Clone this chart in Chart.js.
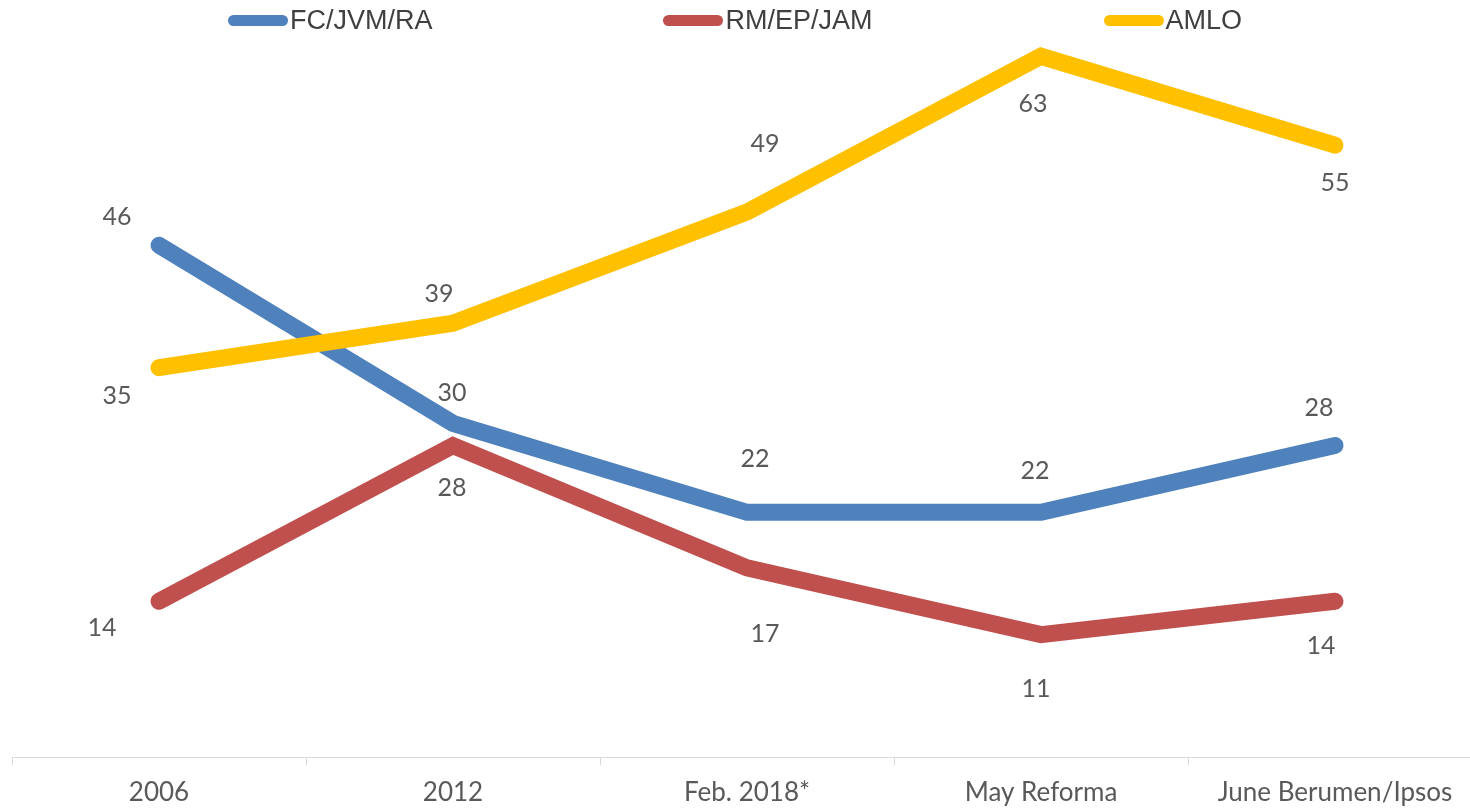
<!DOCTYPE html>
<html>
<head>
<meta charset="utf-8">
<script src="https://cdn.jsdelivr.net/npm/chart.js@4"></script>
<style>
    body { margin: 0; overflow: hidden; background: #fff; }
    #wrap { position: relative; width: 1482px; height: 809px; }
    #legend {
        position: absolute; top: 0; left: 0; width: 1470px; height: 40px;
        display: flex; justify-content: center; align-items: center; gap: 231px;
        font-family: "Liberation Sans", Arial, sans-serif; font-size: 27px; color: #404040;
        z-index: 2;
    }
    .item { display: flex; align-items: center; white-space: nowrap; }
    .mark { width: 60px; height: 11px; border-radius: 6px; margin-right: 2px; }
</style>
</head>
<body>
<div id="wrap">
    <div id="legend"></div>
    <canvas id="chart"></canvas>
</div>
<script>
// 数据
const categories = ['2006', '2012', 'Feb. 2018*', 'May Reforma', 'June Berumen/Ipsos'];
const seriesNames = ['FC/JVM/RA', 'RM/EP/JAM', 'AMLO'];
const fcValues = [46, 30, 22, 22, 28];
const rmValues = [14, 28, 17, 11, 14];
const amloValues = [35, 39, 49, 63, 55];
const colors = ['#4F81BD', '#C0504D', '#FFC000'];

// 数据标签偏移 (像素, 相对于点)
const labelShift = [
    [[-42, -28], [-1, -30], [8, -53], [-6, -41], [-16, -38]],
    [[-57, 27], [-1, 42], [18, 66], [-5, 54], [-14, 45]],
    [[-42, 28], [-14, -29], [18, -68], [-8, 48], [0, 38]]
];

// 图例
const legend = document.getElementById('legend');
seriesNames.forEach((name, i) => {
    legend.innerHTML += `<div class="item"><span class="mark" style="background:${colors[i]}"></span>${name}</div>`;
});

// 数据标签插件
const valueLabels = {
    id: 'valueLabels',
    afterDatasetsDraw(chart) {
        const ctx = chart.ctx;
        ctx.save();
        ctx.font = '25px Lato, "Open Sans", sans-serif';
        ctx.fillStyle = '#595959';
        ctx.textAlign = 'center';
        ctx.textBaseline = 'middle';
        chart.data.datasets.forEach((ds, di) => {
            chart.getDatasetMeta(di).data.forEach((pt, i) => {
                const s = labelShift[di][i];
                ctx.fillText(ds.data[i], pt.x + s[0], pt.y + s[1]);
            });
        });
        ctx.restore();
    }
};

function makeSet(label, data, color, order) {
    return {
        label: label,
        data: data,
        borderColor: color,
        backgroundColor: color,
        borderWidth: 17,
        borderCapStyle: 'round',
        borderJoinStyle: 'miter',
        pointRadius: 0,
        tension: 0,
        fill: false,
        order: order
    };
}

new Chart(document.getElementById('chart'), {
    type: 'line',
    data: {
        labels: categories,
        datasets: [
            makeSet(seriesNames[0], fcValues, colors[0], 2),
            makeSet(seriesNames[1], rmValues, colors[1], 1),
            makeSet(seriesNames[2], amloValues, colors[2], 0)
        ]
    },
    options: {
        responsive: true,
        maintainAspectRatio: false,
        animation: false,
        layout: { padding: { top: 34, left: 12, right: 0, bottom: 0 } },
        plugins: {
            legend: { display: false },
            tooltip: { enabled: false }
        },
        scales: {
            x: {
                offset: true,
                grid: { display: true, drawOnChartArea: false, tickLength: 8, color: '#d9d9d9', offset: true },
                border: { color: '#d9d9d9', width: 1 },
                ticks: {
                    padding: 12,
                    color: '#595959',
                    font: { family: 'Lato, "Open Sans", sans-serif', size: 26 },
                    maxRotation: 0
                },
                afterFit(scale) { scale.height = 52; }
            },
            y: {
                display: false,
                min: 0,
                max: 65
            }
        }
    },
    plugins: [valueLabels]
});
</script>
</body>
</html>
